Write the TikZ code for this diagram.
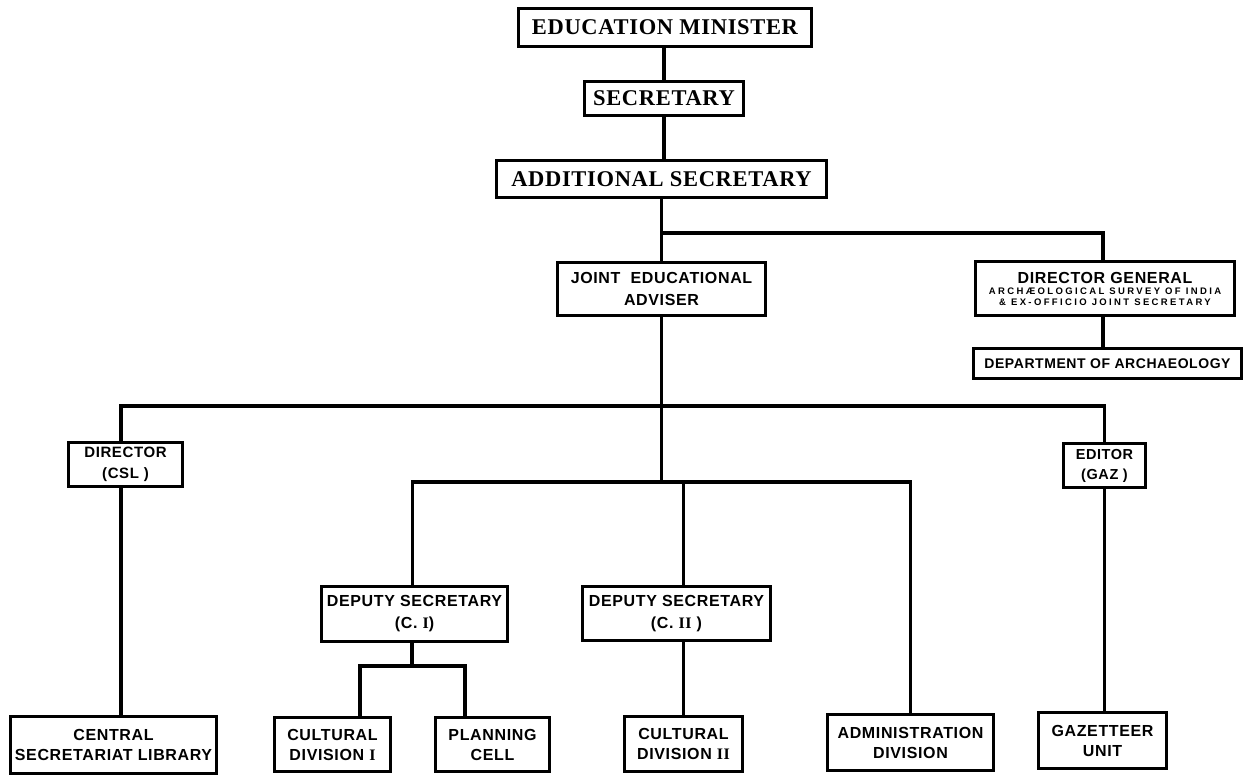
\documentclass[tikz,border=0pt]{standalone}
\usepackage{fontspec}
\setmainfont{Liberation Serif}
\newfontfamily\topfont[LetterSpace=3]{Liberation Serif}
\newfontfamily\boxfont[LetterSpace=4]{Liberation Sans}
\newfontfamily\smallfont[LetterSpace=25]{Liberation Sans}
\newcommand{\rmI}{{\topfont I}}
\newcommand{\rmII}{{\topfont II}}
\begin{document}
\begin{tikzpicture}[x=1pt,y=-1pt,
  topbox/.style={draw, line width=3.2pt, inner sep=0pt,
    font=\topfont\bfseries\fontsize{22.5}{26}\selectfont},
  box/.style={draw, line width=2.8pt, inner sep=0pt, align=center,
    font=\boxfont\bfseries\fontsize{16}{22}\selectfont},
  lowbox/.style={box, font=\boxfont\bfseries\fontsize{16}{20}\selectfont},
  link/.style={line width=3.8pt},
  thinlink/.style={line width=3.2pt}]
\useasboundingbox (0,0) rectangle (1248,776);

% top chain
\node[topbox, minimum width=293, minimum height=38] (em) at (665,27.5) {EDUCATION MINISTER};
\node[topbox, minimum width=159, minimum height=34] (sec) at (664,98.5) {SECRETARY};
\node[topbox, minimum width=330, minimum height=37] (asec) at (661.5,179) {ADDITIONAL SECRETARY};

% second level
\node[box, minimum width=208, minimum height=53] (jea) at (661.5,289) {JOINT\ \ EDUCATIONAL\\ADVISER};
\node[box, minimum width=259, minimum height=54, font=\boxfont\bfseries\fontsize{9.5}{11}\selectfont] (dg) at (1105,288.5)
  {{\boxfont\fontsize{16}{18}\selectfont DIRECTOR GENERAL}\\
   {\smallfont ARCHÆOLOGICAL\ SURVEY OF INDIA}\\
   {\smallfont \& EX-OFFICIO JOINT SECRETARY}};
\node[box, minimum width=268, minimum height=30, font=\boxfont\bfseries\fontsize{14}{18}\selectfont] (da) at (1107.5,363.5) {DEPARTMENT OF ARCHAEOLOGY};

% third level
\node[box, minimum width=114, minimum height=44, font=\boxfont\bfseries\fontsize{15}{21}\selectfont] (dcsl) at (125.5,464.5) {DIRECTOR\\(CSL\ )};
\node[box, minimum width=82, minimum height=44, font=\boxfont\bfseries\fontsize{14.5}{20}\selectfont] (ed) at (1104.5,465.5) {EDITOR\\(GAZ\ )};

% deputy secretaries
\node[box, minimum width=186, minimum height=55] (ds1) at (414.5,614) {DEPUTY SECRETARY\\(C. \rmI)};
\node[box, minimum width=188, minimum height=54] (ds2) at (676.5,613.5) {DEPUTY SECRETARY\\(C. \rmII\ )};

% bottom row
\node[lowbox, minimum width=206, minimum height=57] (csl) at (113.5,745) {CENTRAL\\SECRETARIAT LIBRARY};
\node[lowbox, minimum width=116, minimum height=54] (cd1) at (332.5,744.5) {CULTURAL\\DIVISION \rmI};
\node[lowbox, minimum width=114, minimum height=54] (pc) at (492.5,744.5) {PLANNING\\CELL};
\node[lowbox, minimum width=118, minimum height=55] (cd2) at (683.5,744) {CULTURAL\\DIVISION \rmII};
\node[lowbox, minimum width=166, minimum height=56] (adm) at (910.5,742.5) {ADMINISTRATION\\DIVISION};
\node[lowbox, minimum width=128, minimum height=56] (gaz) at (1102.5,740.5) {GAZETTEER\\UNIT};

% junctions
\coordinate (j1) at (661.5,233);
\coordinate (j2) at (661.5,406);
\coordinate (j3) at (661.5,482);
\coordinate (j4) at (412,666);
\coordinate (j4l) at (360,666);
\coordinate (j4r) at (465,666);
\coordinate (cslx) at (121,406);

% connectors
\draw[link] (sec.north) -- (sec.north |- em.south);
\draw[link] (sec.south) -- (sec.south |- asec.north);
\draw[link] (asec.south) -- (jea.north);
\draw[link] (j1) -| ([xshift=-2pt]dg.north);
\draw[link] ([xshift=-2pt]dg.south) -- ([xshift=-2pt]dg.south |- da.north);
\draw[link] (jea.south) -- (j3);
\draw[link] (cslx |- dcsl.north) -- (cslx) -- (j2) -| (ed.north);
\draw[link] (cslx |- dcsl.south) -- (cslx |- csl.north);
\draw[link] (ed.south) -- (ed.south |- gaz.north);
\draw[link] ([xshift=-2pt]ds1.north) |- (j3) -| (adm.north);
\draw[link] (cd2.north |- j3) -- (cd2.north |- ds2.north);
\draw[link] (cd2.north |- ds2.south) -- (cd2.north);
\draw[thinlink] (j4 |- ds1.south) -- (j4);
\draw[thinlink] (j4l |- cd1.north) -- (j4l) -- (j4r) -- (j4r |- pc.north);
\end{tikzpicture}
\end{document}
